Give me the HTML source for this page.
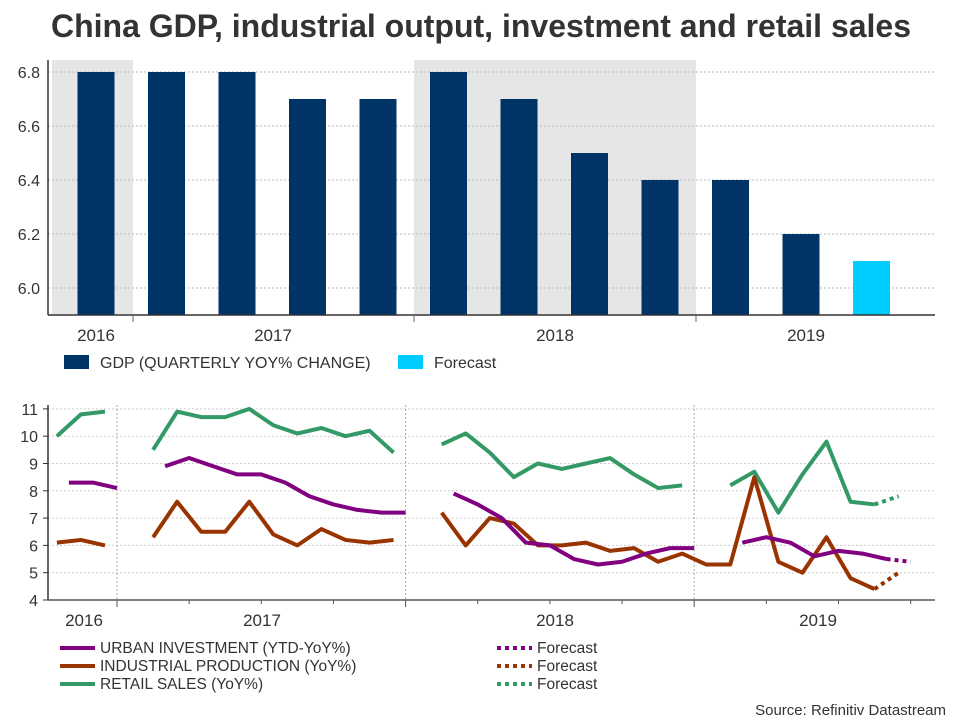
<!DOCTYPE html>
<html><head><meta charset="utf-8"><style>
body{margin:0;background:#fff;font-family:"Liberation Sans",Arial,sans-serif;}
svg text{font-family:"Liberation Sans",Arial,sans-serif;fill:#333;}
</style></head><body>
<svg id="c" width="960" height="720" xmlns="http://www.w3.org/2000/svg">
<text x="481" y="37" text-anchor="middle" font-size="32" font-weight="bold" fill="#333">China GDP, industrial output, investment and retail sales</text>
<g id="topg"></g><g id="botg"></g>
<g>
<rect x="64" y="355" width="25" height="14" fill="#003366"/>
<text x="100" y="368" font-size="16">GDP (QUARTERLY YOY% CHANGE)</text>
<rect x="398" y="355" width="25" height="14" fill="#00ccff"/>
<text x="434" y="368" font-size="16">Forecast</text>
</g>
<g>
<line x1="60" y1="648" x2="95" y2="648" stroke="#800080" stroke-width="4"/>
<text x="100" y="653" font-size="15.5">URBAN INVESTMENT (YTD-YoY%)</text>
<line x1="60" y1="666" x2="95" y2="666" stroke="#993300" stroke-width="4"/>
<text x="100" y="671" font-size="15.5">INDUSTRIAL PRODUCTION (YoY%)</text>
<line x1="60" y1="684" x2="95" y2="684" stroke="#339966" stroke-width="4"/>
<text x="100" y="689" font-size="15.5">RETAIL SALES (YoY%)</text>
<line x1="497" y1="648" x2="532" y2="648" stroke="#800080" stroke-width="4" stroke-dasharray="4 4"/>
<text x="537" y="653" font-size="15.5">Forecast</text>
<line x1="497" y1="666" x2="532" y2="666" stroke="#993300" stroke-width="4" stroke-dasharray="4 4"/>
<text x="537" y="671" font-size="15.5">Forecast</text>
<line x1="497" y1="684" x2="532" y2="684" stroke="#339966" stroke-width="4" stroke-dasharray="4 4"/>
<text x="537" y="689" font-size="15.5">Forecast</text>
</g>
<text x="946" y="715" text-anchor="end" font-size="15">Source: Refinitiv Datastream</text>
</svg>
<script>
// Top chart data
const gdpQuarters=["2016Q4","2017Q1","2017Q2","2017Q3","2017Q4","2018Q1","2018Q2","2018Q3","2018Q4","2019Q1","2019Q2","2019Q3"];
const gdpValues=[6.8,6.8,6.8,6.7,6.7,6.8,6.7,6.5,6.4,6.4,6.2,6.1];
const gdpForecast=[false,false,false,false,false,false,false,false,false,false,false,true];
const gdpTicks=[6.0,6.2,6.4,6.6,6.8];
const topYears=["2016","2017","2018","2019"];
// Bottom chart data (months since Jan 2017; null = gap)
const months=[-3,-2,-1,0,1,2,3,4,5,6,7,8,9,10,11,12,13,14,15,16,17,18,19,20,21,22,23,24,25,26,27,28,29,30,31,32];
const retail=[10.0,10.8,10.9,null,9.5,10.9,10.7,10.7,11.0,10.4,10.1,10.3,10.0,10.2,9.4,null,9.7,10.1,9.4,8.5,9.0,8.8,9.0,9.2,8.6,8.1,8.2,null,8.2,8.7,7.2,8.6,9.8,7.6,7.5,null];
const retailFc=[null,null,null,null,null,null,null,null,null,null,null,null,null,null,null,null,null,null,null,null,null,null,null,null,null,null,null,null,null,null,null,null,null,null,7.5,7.8];
const industrial=[6.1,6.2,6.0,null,6.3,7.6,6.5,6.5,7.6,6.4,6.0,6.6,6.2,6.1,6.2,null,7.2,6.0,7.0,6.8,6.0,6.0,6.1,5.8,5.9,5.4,5.7,5.3,5.3,8.5,5.4,5.0,6.3,4.8,4.4,null];
const industrialFc=[null,null,null,null,null,null,null,null,null,null,null,null,null,null,null,null,null,null,null,null,null,null,null,null,null,null,null,null,null,null,null,null,null,null,4.4,5.0];
const urban=[8.3,8.3,8.1,null,8.9,9.2,8.9,8.6,8.6,8.3,7.8,7.5,7.3,7.2,7.2,null,7.9,7.5,7.0,6.1,6.0,5.5,5.3,5.4,5.7,5.9,5.9,null,6.1,6.3,6.1,5.6,5.8,5.7,5.5,null];
const urbanFc=[null,null,null,null,null,null,null,null,null,null,null,null,null,null,null,null,null,null,null,null,null,null,null,null,null,null,null,null,null,null,null,null,null,null,5.5,5.4];
const botTicks=[4,5,6,7,8,9,10,11];
const botYears=["2016","2017","2018","2019"];

const NS="http://www.w3.org/2000/svg";
function mk(p,tag,a){const e=document.createElementNS(NS,tag);for(const k in a)e.setAttribute(k,a[k]);p.appendChild(e);return e;}
const topG=document.getElementById('topg'),botG=document.getElementById('botg');
const ty=v=>288-(v-6.0)*270;
const tx=i=>96+i*70.5;
let r=mk(topG,'rect',{x:52,y:60,width:81,height:255,fill:'#e6e6e6'});


r=mk(topG,'rect',{x:414,y:60,width:282,height:255,fill:'#e6e6e6'});


gdpTicks.forEach(t=>{
  let l=mk(topG,'line',{x1:48,x2:935,y1:ty(t),y2:ty(t),stroke:'#bbb','stroke-dasharray':'2 2'});
  
  
  let tt=mk(topG,'text',{x:40,y:ty(t)+6,'text-anchor':'end','font-size':16});tt.textContent=t.toFixed(1);
  
  
});
gdpValues.forEach((v,i)=>{
  let b=mk(topG,'rect',{x:tx(i)-18.5,y:ty(v),width:37,height:315-ty(v),fill:gdpForecast[i]?'#00ccff':'#003366'});
  
  
});
mk(topG,'line',{x1:48,x2:48,y1:60,y2:315,stroke:'#333','stroke-width':1.5});
mk(topG,'line',{x1:48,x2:935,y1:315,y2:315,stroke:'#333','stroke-width':1.5});
[133,414,696].forEach(x=>mk(topG,'line',{x1:x,x2:x,y1:315,y2:322,stroke:'#666'}));
[96,273,555,806].forEach((x,i)=>{let t=mk(topG,'text',{x:x,y:341,'text-anchor':'middle','font-size':17});t.textContent=topYears[i];
  
  });

const by=v=>600-(v-4)*27.3;
const bx=m=>117+m*24.05;
botTicks.forEach(t=>{
  let l=mk(botG,'line',{x1:48,x2:935,y1:by(t),y2:by(t),stroke:'#ccc','stroke-dasharray':'2 2'});
  
  
  mk(botG,'line',{x1:43,x2:48,y1:by(t),y2:by(t),stroke:'#333'});
  let tt=mk(botG,'text',{x:38,y:by(t)+6,'text-anchor':'end','font-size':16});tt.textContent=t;
  
  
});
[0,12,24].forEach(m=>mk(botG,'line',{x1:bx(m),x2:bx(m),y1:405,y2:600,stroke:'#aaa','stroke-dasharray':'2 2'}));
mk(botG,'line',{x1:48,x2:48,y1:405,y2:600,stroke:'#333','stroke-width':1.5});
mk(botG,'line',{x1:48,x2:935,y1:600,y2:600,stroke:'#555','stroke-width':1.5});
for(let m=0;m<=33;m+=3){mk(botG,'line',{x1:bx(m),x2:bx(m),y1:600,y2:m%12==0?607:604,stroke:'#555'});}
[84,262,555,818].forEach((x,i)=>{let t=mk(botG,'text',{x:x,y:626,'text-anchor':'middle','font-size':17});t.textContent=botYears[i];
  
  });

function drawSeries(vals,color,off,name,dash){
  let segs=[],cur=[];
  vals.forEach((v,i)=>{if(v==null){if(cur.length)segs.push(cur);cur=[];}else cur.push([bx(months[i]+off),by(v)]);});
  if(cur.length)segs.push(cur);
  segs.forEach(s=>{
    const a={points:s.map(p=>p.join(',')).join(' '),fill:'none',stroke:color,'stroke-width':4,'stroke-linejoin':'round'};
    if(dash)a['stroke-dasharray']='4 4';
    const p=mk(botG,'polyline',a);
    
    
  });
}
drawSeries(retail,'#339966',0.5,'retail-sales-line');
drawSeries(retailFc,'#339966',0.5,'retail-sales-forecast',true);
drawSeries(industrial,'#993300',0.5,'industrial-production-line');
drawSeries(industrialFc,'#993300',0.5,'industrial-production-forecast',true);
drawSeries(urban,'#800080',1,'urban-investment-line');
drawSeries(urbanFc,'#800080',1,'urban-investment-forecast',true);
</script>
</body></html>
